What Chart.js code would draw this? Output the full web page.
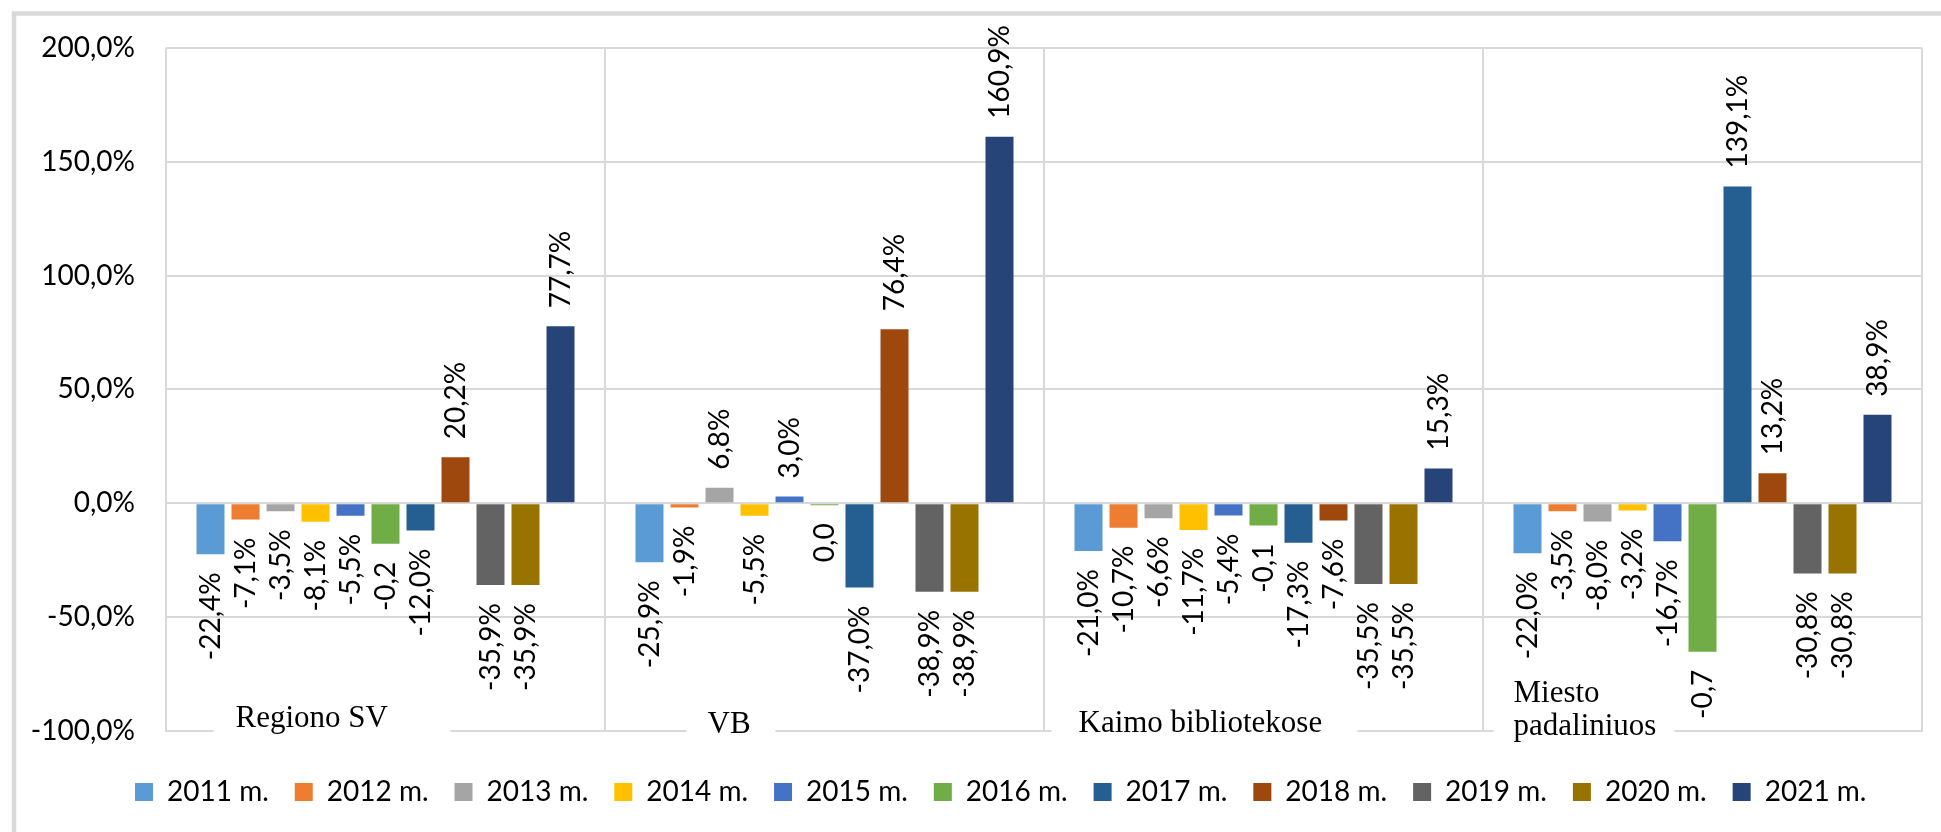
<!DOCTYPE html>
<html><head><meta charset="utf-8">
<script src="https://cdn.jsdelivr.net/npm/chart.js@4.4.1/dist/chart.umd.min.js"></script>
<style>html,body{margin:0;padding:0;background:#fff}#wrap{width:1941px;height:832px;position:relative}</style>
</head><body><div id="wrap"><canvas id="c"></canvas></div>
<script>
// ---- data ----
const categories = ['Regiono SV', 'VB', 'Kaimo bibliotekose', 'Miesto padaliniuos'];
const categoryLines = [['Regiono SV'], ['VB'], ['Kaimo bibliotekose'], ['Miesto', 'padaliniuos']];
const seriesNames = ['2011 m.', '2012 m.', '2013 m.', '2014 m.', '2015 m.', '2016 m.', '2017 m.', '2018 m.', '2019 m.', '2020 m.', '2021 m.'];
const s2011 = [-22.4, -25.9, -21.0, -22.0];
const s2012 = [-7.1, -1.9, -10.7, -3.5];
const s2013 = [-3.5, 6.8, -6.6, -8.0];
const s2014 = [-8.1, -5.5, -11.7, -3.2];
const s2015 = [-5.5, 3.0, -5.4, -16.7];
const s2016 = [-17.8, -0.9, -9.8, -65.2]; // labelled as fractions in the source ("-0,2")
const s2017 = [-12.0, -37.0, -17.3, 139.1];
const s2018 = [20.2, 76.4, -7.6, 13.2];
const s2019 = [-35.9, -38.9, -35.5, -30.8];
const s2020 = [-35.9, -38.9, -35.5, -30.8];
const s2021 = [77.7, 160.9, 15.3, 38.9];
const yTickValues = [-100, -50, 0, 50, 100, 150, 200];

// ---- styles ----
const seriesColors = ['#5B9BD5', '#ED7D31', '#A5A5A5', '#FFC000', '#4472C4', '#70AD47', '#255E91', '#9E480E', '#636363', '#997300', '#264478'];
const fractionSeries = ['2016 m.'];
const FONT = 'Lato';
const GRID = '#d9d9d9';
const LABEL_GAP = 18;
const LEGEND_FIRST_BOX_X = 135;
// category label placement relative to category centre
const catLabelStyle = [
  {dx: -150, boxL: -172, boxR: 65, base: [727]},
  {dx: -117, boxL: -138, boxR: -49, base: [733]},
  {dx: -185, boxL: -212, boxR: 94, base: [732]},
  {dx: -189, boxL: -209, boxR: -28, base: [702, 735]}
];

const allSeries = [s2011, s2012, s2013, s2014, s2015, s2016, s2017, s2018, s2019, s2020, s2021];

function pct(v) { return v.toFixed(1).replace('.', ',') + '%'; }
function frac(v) {
  let s = (v / 100).toFixed(1);
  if (parseFloat(s) === 0) s = '0.0';
  return s.replace('.', ',');
}

const datasets = seriesNames.map((n, i) => ({
  label: n,
  data: allSeries[i],
  backgroundColor: seriesColors[i],
  borderWidth: 0,
  fractionLabel: fractionSeries.includes(n)
}));

const helperPlugin = {
  id: 'helper',
  beforeDraw(chart) {
    const ctx = chart.ctx;
    ctx.save();
    ctx.fillStyle = '#fff';
    ctx.fillRect(0, 0, chart.width, chart.height);
    ctx.strokeStyle = GRID;
    ctx.lineWidth = 4.5;
    ctx.strokeRect(14, 13.5, chart.width + 40, chart.height + 40);
    ctx.restore();
  },
  afterLayout(chart) {
    const lg = chart.legend;
    if (!lg || !lg.lineWidths) return;
    const pad = lg.options.labels.padding;
    const start = (lg.left + pad + lg.right - lg.lineWidths[0]) / 2;
    const shift = LEGEND_FIRST_BOX_X - start;
    lg.left += shift; lg.right += shift;
  },
  afterDatasetsDraw(chart) {
    const ctx = chart.ctx;
    ctx.save();
    ctx.font = '28px ' + FONT;
    ctx.fillStyle = '#000';
    ctx.textBaseline = 'middle';
    chart.data.datasets.forEach((ds, di) => {
      const meta = chart.getDatasetMeta(di);
      meta.data.forEach((bar, i) => {
        const v = ds.data[i];
        const txt = ds.fractionLabel ? frac(v) : pct(v);
        const p = bar.getProps(['x', 'y'], true);
        ctx.save();
        if (v >= 0) { ctx.translate(p.x, p.y - LABEL_GAP); ctx.textAlign = 'left'; }
        else { ctx.translate(p.x, p.y + LABEL_GAP); ctx.textAlign = 'right'; }
        ctx.rotate(-Math.PI / 2);
        ctx.fillText(txt, 0, 0);
        ctx.restore();
      });
    });
    // category labels inside plot bottom
    const xs = chart.scales.x;
    ctx.font = '31px "Liberation Serif"';
    ctx.textAlign = 'left';
    ctx.textBaseline = 'alphabetic';
    categoryLines.forEach((lines, i) => {
      const c = xs.getPixelForValue(i);
      const st = catLabelStyle[i];
      ctx.fillStyle = '#fff';
      ctx.fillRect(c + st.boxL, chart.chartArea.bottom - 8, st.boxR - st.boxL, 16);
      ctx.fillStyle = '#000';
      lines.forEach((ln, k) => ctx.fillText(ln, c + st.dx, st.base[k]));
    });
    ctx.restore();
  }
};

new Chart(document.getElementById('c'), {
  type: 'bar',
  data: { labels: categories, datasets },
  plugins: [helperPlugin],
  options: {
    responsive: true,
    maintainAspectRatio: false,
    animation: false,
    devicePixelRatio: 1,
    layout: { padding: { left: 0, right: 19, top: 46, bottom: 16 } },
    datasets: { bar: { barPercentage: 0.8, categoryPercentage: 0.877 } },
    plugins: {
      tooltip: { enabled: false },
      legend: {
        position: 'bottom',
        labels: {
          boxWidth: 18, boxHeight: 18, padding: 26,
          color: '#000',
          font: { family: FONT, size: 28 }
        }
      }
    },
    scales: {
      x: {
        grid: { color: GRID, lineWidth: 2, drawTicks: false, offset: true },
        border: { color: GRID, width: 2 },
        ticks: { display: false },
        afterFit(s) { s.height = 21; }
      },
      y: {
        min: -100, max: 200,
        afterBuildTicks(s) { s.ticks = yTickValues.map(v => ({ value: v })); },
        grid: { color: GRID, lineWidth: 2, drawTicks: false },
        border: { display: false },
        ticks: {
          color: '#000', padding: 31,
          font: { family: FONT, size: 28 },
          callback: v => pct(v)
        },
        afterFit(s) { s.width = 166; }
      }
    }
  }
});
</script>
</body></html>
